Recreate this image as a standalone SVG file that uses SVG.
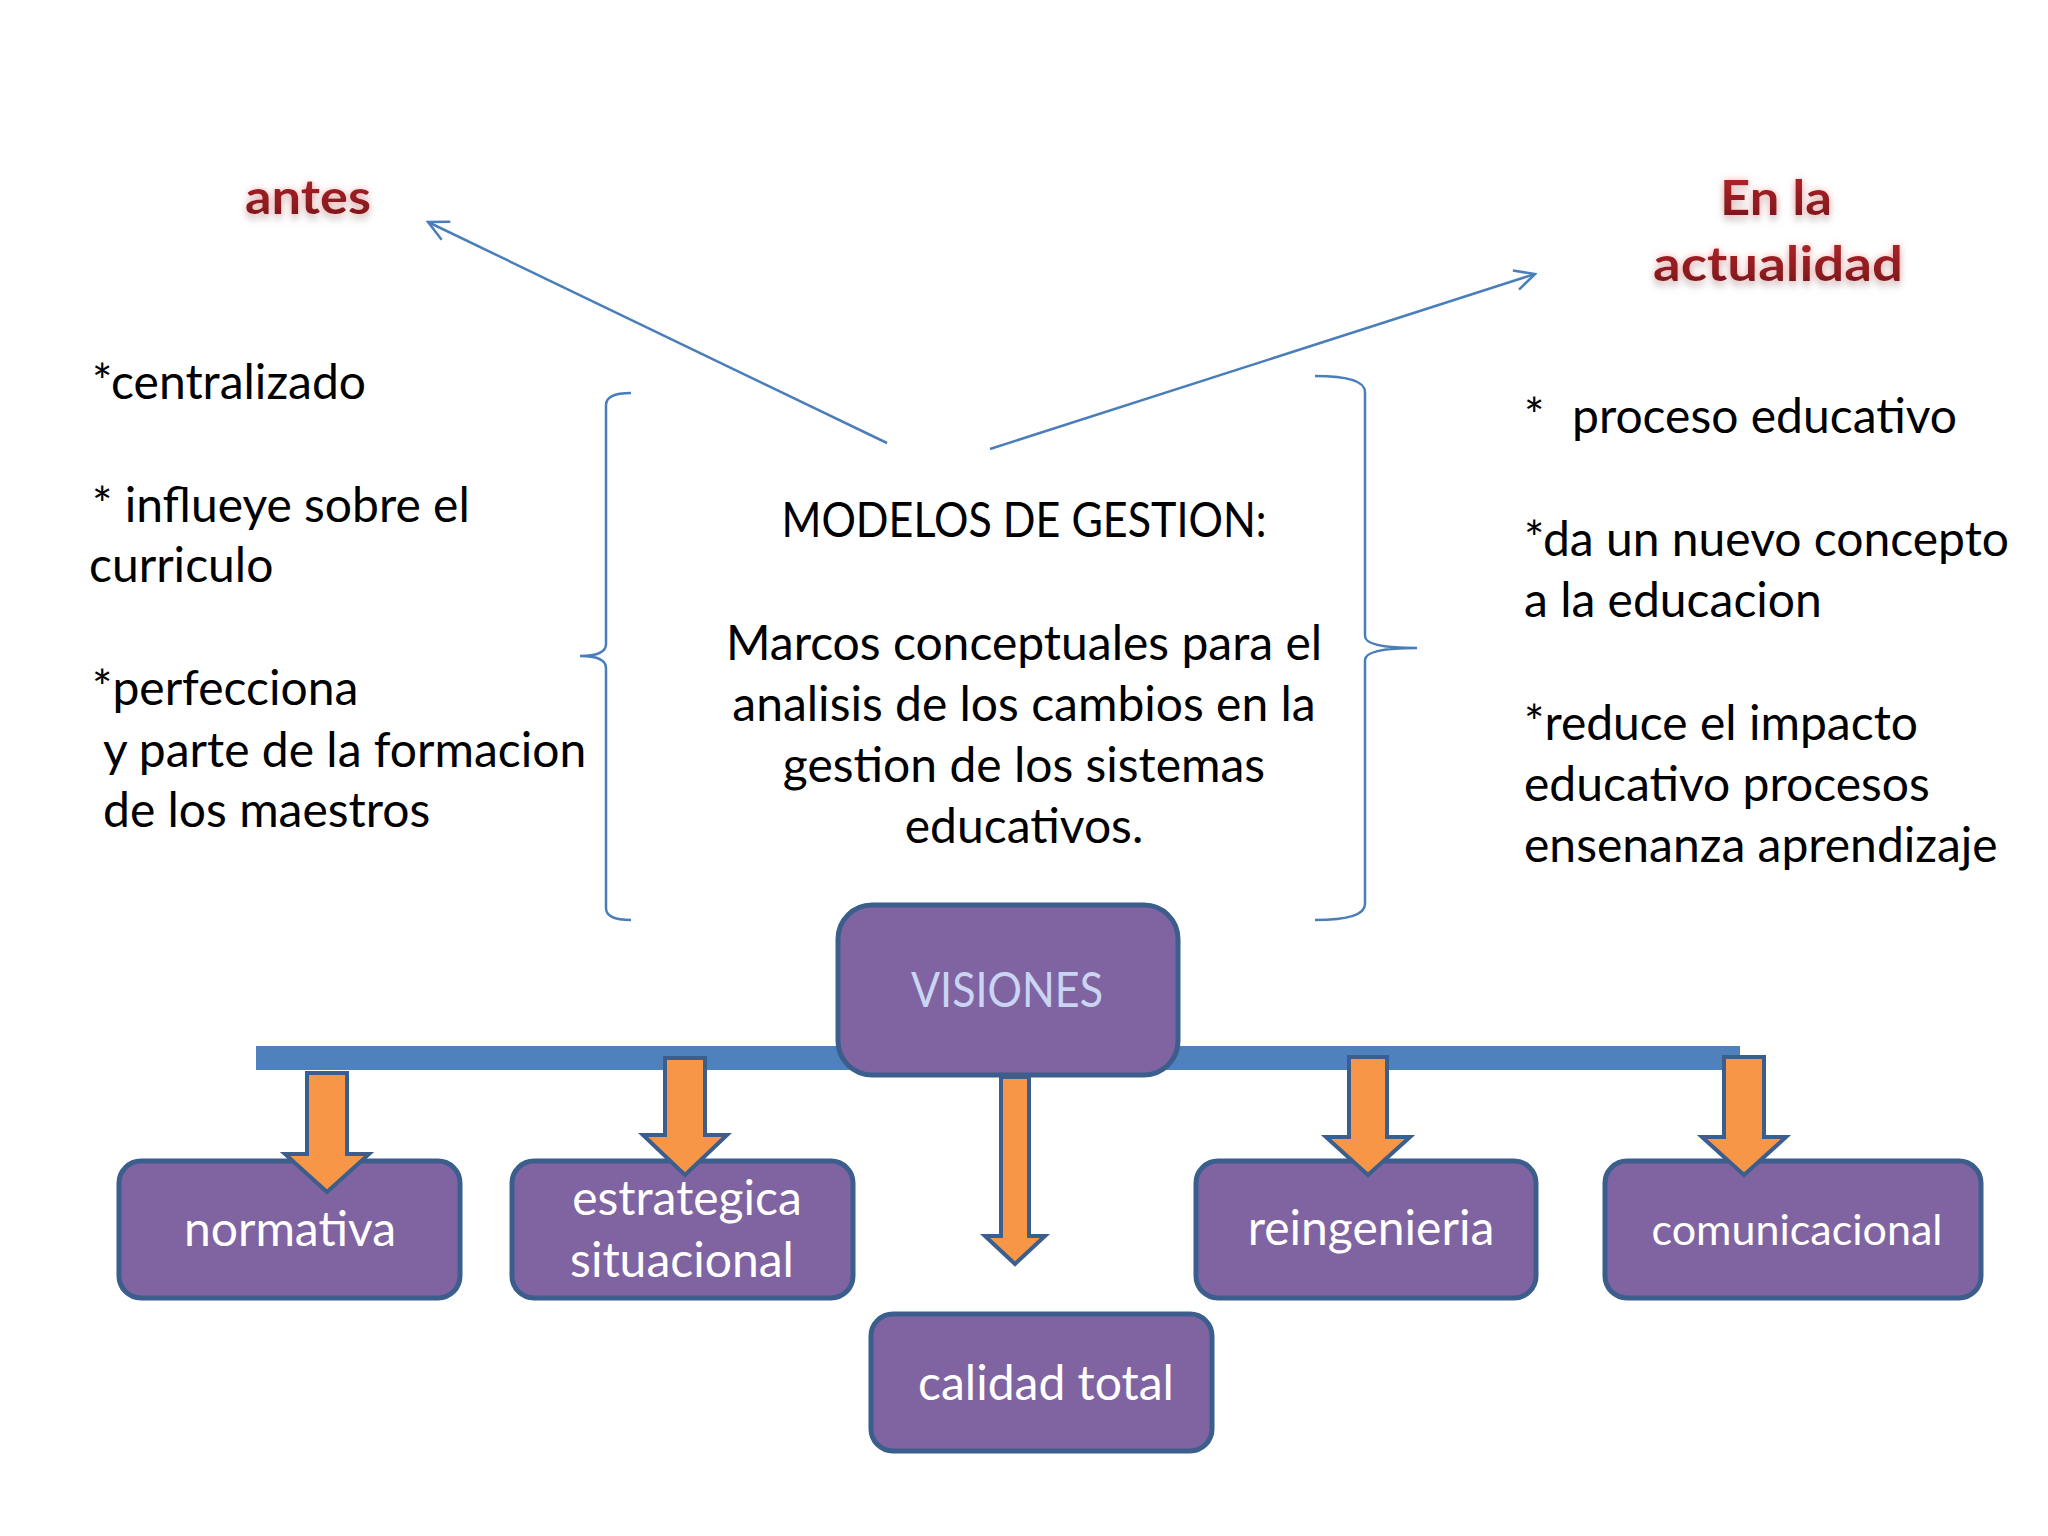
<svg xmlns="http://www.w3.org/2000/svg" width="2048" height="1536" viewBox="0 0 2048 1536">
<defs>
<style>
.body{font-family:Lato,"Open Sans","Liberation Sans",sans-serif;font-size:48px;fill:#000}
.ctr{text-anchor:middle}
.title{font-family:Lato,"Open Sans","Liberation Sans",sans-serif;font-weight:bold;font-size:48px;fill:url(#redgrad);text-anchor:middle}
.box{fill:#8064A2;stroke:#3B5E8C;stroke-width:5}
.btxt{font-family:Lato,"Open Sans","Liberation Sans",sans-serif;font-size:48px;fill:#FFFFFF;text-anchor:middle}
.line{fill:none;stroke:#4A7EBB;stroke-width:2.5}
.brace{fill:none;stroke:#4A7EBB;stroke-width:2.5}
.oarrow{fill:#F79646;stroke:#3B5E8C;stroke-width:4;stroke-linejoin:miter}
</style>
<linearGradient id="redgrad" x1="0" y1="0" x2="0" y2="1">
<stop offset="0" stop-color="#B8262C"/>
<stop offset="1" stop-color="#761519"/>
</linearGradient>
<marker id="open" viewBox="0 0 24 24" markerWidth="24" markerHeight="24" refX="22" refY="12" orient="auto" markerUnits="userSpaceOnUse">
<path d="M2,2 L22,12 L2,22" fill="none" stroke="#4A7EBB" stroke-width="2.5"/>
</marker>
<filter id="glow" x="-20%" y="-40%" width="140%" height="200%">
<feGaussianBlur in="SourceAlpha" stdDeviation="3.5" result="b"/>
<feFlood flood-color="#F5A9A9" flood-opacity="0.85"/>
<feComposite in2="b" operator="in" result="g"/>
<feOffset in="b" dx="0" dy="6" result="o"/>
<feFlood flood-color="#A7B0AE" flood-opacity="0.55"/>
<feComposite in2="o" operator="in" result="s"/>
<feMerge><feMergeNode in="s"/><feMergeNode in="g"/><feMergeNode in="SourceGraphic"/></feMerge>
</filter>
</defs>
<rect width="2048" height="1536" fill="#FFFFFF"/>

<g id="connectors">
<line class="line" x1="887" y1="443" x2="428" y2="222" marker-end="url(#open)"/>
<line class="line" x1="990" y1="449" x2="1535" y2="274" marker-end="url(#open)"/>
<path class="brace" d="M631,393 Q606,393 606,405 L606,644 Q606,656 580,656 Q606,656 606,668 L606,908 Q606,920 631,920"/>
<path class="brace" d="M1315,376 Q1365,376 1365,392 L1365,636 Q1365,648 1417,648 Q1365,648 1365,660 L1365,904 Q1365,920 1315,920"/>
<rect x="256" y="1046" width="1484" height="24" fill="#4F81BD"/>
</g>

<g id="title-antes">
<text class="title" x="308" y="214" textLength="126" lengthAdjust="spacingAndGlyphs" filter="url(#glow)">antes</text>
</g>
<g id="title-actualidad">
<text class="title" x="1776" y="215" textLength="112" lengthAdjust="spacingAndGlyphs" filter="url(#glow)">En la</text>
<text class="title" x="1778" y="281" textLength="250" lengthAdjust="spacingAndGlyphs" filter="url(#glow)">actualidad</text>
</g>

<g id="list-antes">
<text class="body" x="92" y="399">*centralizado</text>
<text class="body" x="92" y="522" xml:space="preserve">* influeye sobre el</text>
<text class="body" x="89" y="582">curriculo</text>
<text class="body" x="92" y="705">*perfecciona</text>
<text class="body" x="103" y="767">y parte de la formacion</text>
<text class="body" x="103" y="827">de los maestros</text>
</g>

<g id="center-text">
<text class="body ctr" x="1024" y="537" textLength="485" lengthAdjust="spacingAndGlyphs">MODELOS DE GESTION:</text>
<text class="body ctr" x="1024" y="660">Marcos conceptuales para el</text>
<text class="body ctr" x="1024" y="721">analisis de los cambios en la</text>
<text class="body ctr" x="1024" y="782">gestion de los sistemas</text>
<text class="body ctr" x="1024" y="843">educativos.</text>
</g>

<g id="list-actualidad">
<text class="body" x="1524" y="433">*<tspan x="1572">proceso educativo</tspan></text>
<text class="body" x="1524" y="556">*da un nuevo concepto</text>
<text class="body" x="1524" y="617">a la educacion</text>
<text class="body" x="1524" y="740">*reduce el impacto</text>
<text class="body" x="1524" y="801">educativo procesos</text>
<text class="body" x="1524" y="862">ensenanza aprendizaje</text>
</g>

<g id="node-visiones">
<rect class="box" x="838" y="905" width="340" height="170" rx="34"/>
<text class="btxt" x="1007" y="1007" textLength="192" lengthAdjust="spacingAndGlyphs" style="fill:#C9D5F2">VISIONES</text>
</g>

<g id="node-normativa">
<rect class="box" x="119" y="1161" width="341" height="137" rx="22"/>
<text class="btxt" x="290" y="1246">normativa</text>
</g>
<g id="node-estrategica">
<rect class="box" x="512" y="1161" width="341" height="137" rx="22"/>
<text class="btxt" x="687" y="1215">estrategica</text>
<text class="btxt" x="682" y="1277">situacional</text>
</g>
<g id="node-calidad">
<rect class="box" x="871" y="1314" width="341" height="137" rx="22"/>
<text class="btxt" x="1046" y="1400">calidad total</text>
</g>
<g id="node-reingenieria">
<rect class="box" x="1196" y="1161" width="340" height="137" rx="22"/>
<text class="btxt" x="1371" y="1245">reingenieria</text>
</g>
<g id="node-comunicacional">
<rect class="box" x="1605" y="1161" width="376" height="137" rx="22"/>
<text class="btxt" x="1797" y="1245" style="font-size:43px">comunicacional</text>
</g>

<g id="connector-arrows">
<polygon class="oarrow" points="307,1073 347,1073 347,1154 369,1154 327,1192 285,1154 307,1154"/>
<polygon class="oarrow" points="665,1058 705,1058 705,1135 727,1135 685,1175 643,1135 665,1135"/>
<polygon class="oarrow" points="1001,1077 1029,1077 1029,1236 1045,1236 1015,1264 985,1236 1001,1236"/>
<polygon class="oarrow" points="1349,1057 1387,1057 1387,1137 1410,1137 1368,1175 1326,1137 1349,1137"/>
<polygon class="oarrow" points="1724,1057 1764,1057 1764,1137 1786,1137 1744,1175 1702,1137 1724,1137"/>
</g>
</svg>
